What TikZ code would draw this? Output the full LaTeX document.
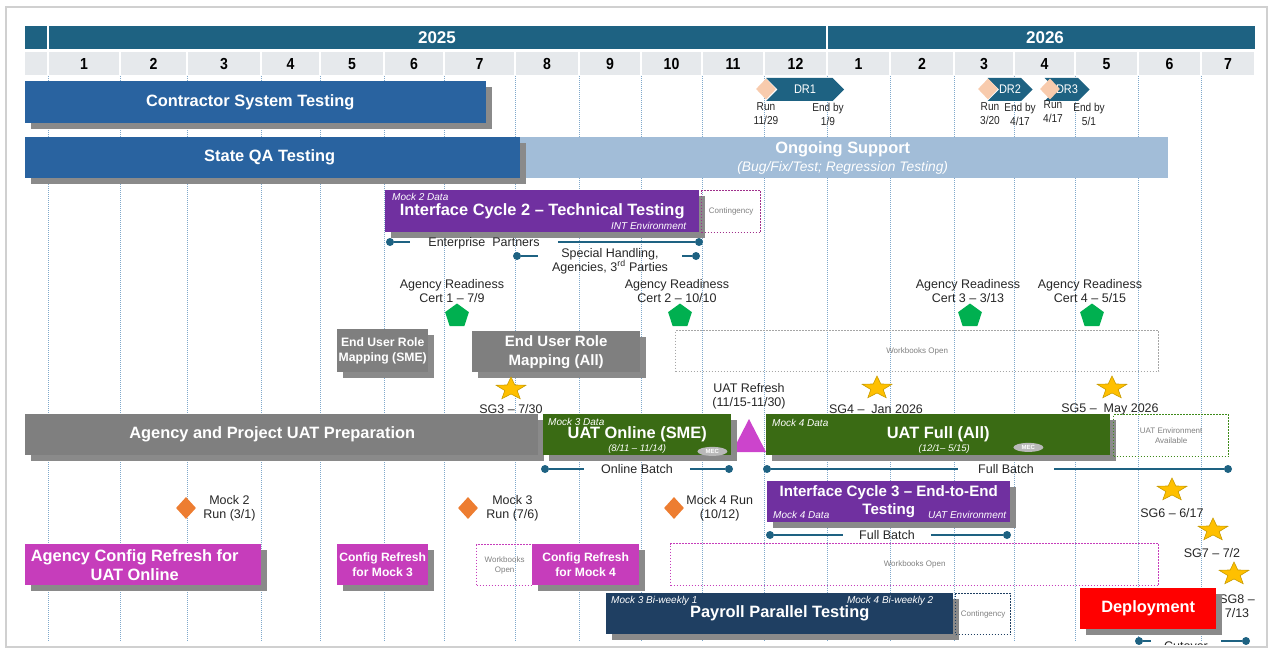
\documentclass[tikz,border=0pt]{standalone}
\usepackage{fontspec}
\setmainfont{Liberation Sans}
\newfontfamily\narrowsans{Liberation Sans}[FakeStretch=0.88]
\usetikzlibrary{positioning,shapes.geometric,shapes.symbols,shadows}

\definecolor{yearblue}{HTML}{1E6282}
\definecolor{monthgray}{HTML}{E6E9EC}
\definecolor{gridblue}{HTML}{7FA8CB}
\definecolor{testblue}{HTML}{2963A0}
\definecolor{supportblue}{HTML}{A2BDD8}
\definecolor{icpurple}{HTML}{7030A0}
\definecolor{contpurple}{HTML}{A0308C}
\definecolor{uatgreen}{HTML}{3A6B14}
\definecolor{envgreen}{HTML}{3E8A1A}
\definecolor{configpink}{HTML}{C63DBB}
\definecolor{refreshpink}{HTML}{CC44CC}
\definecolor{payrollnavy}{HTML}{1F3F62}
\definecolor{deployred}{HTML}{FF0000}
\definecolor{prepgray}{HTML}{7F7F7F}
\definecolor{shadowgray}{HTML}{8A8A8A}
\definecolor{runorange}{HTML}{ED7D31}
\definecolor{drpeach}{HTML}{F8CBAD}
\definecolor{certgreen}{HTML}{00B050}
\definecolor{sggold}{HTML}{FFC000}
\definecolor{sgedge}{HTML}{C89B00}
\definecolor{inktext}{HTML}{262626}
\definecolor{framegray}{HTML}{D0D0D0}

\tikzset{
  wh/.style 2 args={minimum width=#1pt, minimum height=#2pt},
  bar/.style={anchor=north west, inner sep=0pt, text=white, align=center,
    font=\bfseries\fontsize{16.4}{19}\selectfont,
    drop shadow={shadow xshift=6pt, shadow yshift=-6pt, fill=shadowgray, opacity=1}},
  flatbar/.style={anchor=north west, inner sep=0pt, text=white, align=center},
  tag/.style={inner sep=0pt, text=white, font=\itshape\fontsize{10}{11}\selectfont},
  openbox/.style={anchor=north west, inner sep=0pt, align=center, text=gray,
    line width=1.3pt, dash pattern=on 1.3pt off 1.7pt, font=\fontsize{8}{10}\selectfont},
  note/.style={inner sep=0pt, align=center, text=inktext, font=\fontsize{12.5}{14}\selectfont},
  small/.style={inner sep=0pt, align=center, text=inktext, font=\narrowsans\fontsize{11.5}{14}\selectfont},
  batchlabel/.style={inner ysep=0pt, text=inktext, align=center, font=\fontsize{12.5}{14}\selectfont},
  batchline/.style={draw=yearblue, line width=1.6pt},
  batchdot/.style={circle, fill=yearblue, inner sep=0pt, minimum size=8pt},
  sgstar/.style={star, star points=5, star point ratio=2.4, minimum size=24pt, inner sep=0pt,
    xscale=1.3, fill=sggold, draw=sgedge, line width=0.6pt},
  cert/.style={regular polygon, regular polygon sides=5, minimum size=25pt, inner sep=0pt, fill=certgreen},
  mockrun/.style={diamond, minimum width=20pt, minimum height=22pt, inner sep=0pt, fill=runorange},
  drrun/.style={diamond, minimum width=20pt, minimum height=21pt, inner sep=0pt, fill=drpeach},
  drband/.style={signal, signal to=east, signal from=west, minimum height=23pt, inner sep=0pt,
    fill=yearblue, text=white, font=\narrowsans\fontsize{12.5}{14}\selectfont},
  mec/.style={ellipse, inner sep=0pt, minimum width=30pt, minimum height=9pt, fill=gray!55,
    text=white, font=\bfseries\fontsize{6}{7}\selectfont},
  gridline/.style={gridblue, line width=0.6pt, dash pattern=on 1pt off 1pt},
  yearlabel/.style={inner sep=0pt, text=white, font=\bfseries\fontsize{17}{18}\selectfont},
  monthlabel/.style={inner sep=0pt, text=black, font=\narrowsans\bfseries\fontsize{16}{17}\selectfont},
}

\begin{document}
\begin{tikzpicture}[x=1pt,y=-1pt]
\useasboundingbox (0,0) rectangle (1272,658);
\draw[framegray, line width=1.2pt] (6,7) rectangle (1267,647);

\begin{scope}
\clip (7,8) rectangle (1266,644);

% Header
\fill[yearblue] (25,26) rectangle (47,49);
\fill[yearblue] (49,26) rectangle (826,49);
\fill[yearblue] (828,26) rectangle (1255,49);
\node[yearlabel] (y2025) at (437,37.5) {2025};
\node[yearlabel] (y2026) at (1045,37.5) {2026};
\fill[monthgray] (25,52) rectangle (47,75);
\foreach \a/\b/\m in {48/120/1,120/187/2,187/261/3,261/320/4,320/384/5,384/444/6,
    444/515/7,515/579/8,579/641/9,641/702/10,702/764/11,764/827/12,827/890/1,
    890/954/2,954/1014/3,1014/1075/4,1075/1138/5,1138/1201/6,1201/1255/7}{
  \fill[monthgray] (\a+1,52) rectangle (\b-1,75);
  \node[monthlabel] (month\a) at ({(\a+\b)/2},64) {\m};
}

% Month grid
\foreach \x in {48,120,187,261,320,384,444,515,579,641,702,764,827,890,954,1014,1075,1138,1201}
  \draw[gridline] (\x,76) -- (\x,642);

% Testing bars
\node[bar, fill=testblue, wh={461}{42}] (cst) at (25,81) {Contractor System Testing\hspace*{11pt}};
\node[flatbar, fill=supportblue, wh={651}{41}, font=\fontsize{13.8}{18}\selectfont]
  (ongoing) at (517,137) {{\bfseries\fontsize{16.4}{18}\selectfont Ongoing Support}\\
  {\itshape (Bug/Fix/Test; Regression Testing)}};
\node[bar, fill=testblue, wh={495}{41}] (sqa) at (25,137) {State QA Testing\hspace*{6pt}};

% Data refresh runs
\node[drband, minimum width=78pt] (dr1) at (805,89.5) {DR1};
\node[drrun] (dr1run) at (766,89) {};
\node[drband, minimum width=42pt] (dr2) at (1010,89.5) {DR2};
\node[drrun] (dr2run) at (988,89) {};
\node[drband, minimum width=34pt] (dr3) at (1067,89.5) {DR3};
\node[drrun] (dr3run) at (1050,89) {};
\node[small] (dr1-a) at (766,114) {Run\\11/29};
\node[small] (dr1-b) at (828,114) {End by\\1/9};
\node[small] (dr2-a) at (990,114) {Run\\3/20};
\node[small] (dr2-b) at (1020,114) {End by\\4/17};
\node[small] (dr3-a) at (1053,112) {Run\\4/17};
\node[small] (dr3-b) at (1089,114) {End by\\5/1};

% Interface cycle 2
\node[bar, fill=icpurple, wh={314}{42}] (ic2) at (385,190) {Interface Cycle 2 – Technical Testing};
\node[tag, below right=3pt and 7pt of ic2.north west] (ic2-data) {Mock 2 Data};
\node[tag, above left=3pt and 13pt of ic2.south east] (ic2-env) {INT Environment};
\node[openbox, draw=contpurple, wh={59}{42}] (ic2cont) at (701,190) {Contingency};

\node[batchdot] (ep-a) at (390,242) {};
\node[batchdot] (ep-b) at (699,242) {};
\node[batchlabel, inner xsep=18pt] (ep) at (484,243) {Enterprise\ \ Partners};
\draw[batchline] (ep-a) -- (ep-a -| ep.west);
\draw[batchline] (ep.east |- ep-b) -- (ep-b);
\node[batchdot] (sh-a) at (517,256) {};
\node[batchdot] (sh-b) at (696,256) {};
\node[batchlabel, inner xsep=14pt] (sh) at (610,261) {Special Handling,\\Agencies, 3\textsuperscript{rd} Parties};
\draw[batchline] (sh-a) -- (sh-a -| sh.west);
\draw[batchline] (sh.east |- sh-b) -- (sh-b);

% Agency readiness
\node[note] (cert1-l) at (452,291) {Agency Readiness\\Cert 1 – 7/9};
\node[cert] (cert1) at (457,316) {};
\node[note] (cert2-l) at (677,291) {Agency Readiness\\Cert 2 – 10/10};
\node[cert] (cert2) at (680,316) {};
\node[note] (cert3-l) at (968,291) {Agency Readiness\\Cert 3 – 3/13};
\node[cert] (cert3) at (970,316) {};
\node[note] (cert4-l) at (1090,291) {Agency Readiness\\Cert 4 – 5/15};
\node[cert] (cert4) at (1092,316) {};

% Role mapping
\node[bar, fill=prepgray, wh={91}{43}, font=\bfseries\fontsize{12.2}{15}\selectfont]
  (eursme) at (337,329) {End User Role\\Mapping (SME)};
\node[bar, fill=prepgray, wh={168}{41}, font=\bfseries\fontsize{15}{19}\selectfont]
  (eurall) at (472,331) {End User Role\\Mapping (All)};
\node[openbox, draw=gray!70, wh={483}{41}] (wb1) at (675,330) {Workbooks Open};

% Stage gates
\node[sgstar] (sg3) at (511,389) {};
\node[note] (sg3-l) at (511,409) {SG3 – 7/30};
\node[sgstar] (sg4) at (877,388) {};
\node[note] (sg4-l) at (876,409) {SG4 –\ \ Jan 2026};
\node[sgstar] (sg5) at (1112,388) {};
\node[note] (sg5-l) at (1110,409) {SG5 –\ \ May 2026};
\node[note] (refresh) at (749,396) {UAT Refresh\\(11/15-11/30)};
\fill[refreshpink] (732,452) -- (749,419) -- (766,452) -- cycle;

% UAT
\node[bar, fill=prepgray, wh={513}{41}] (prep) at (25,414) {Agency and Project UAT Preparation\hspace*{19pt}};
\node[bar, fill=uatgreen, wh={188}{41}] (uatol) at (543,414) {UAT Online (SME)};
\node[tag, below right=4pt and 5pt of uatol.north west] (uatol-data) {Mock 3 Data};
\node[tag, font=\itshape\fontsize{9.5}{11}\selectfont] (uatol-d) at ([yshift=-14pt]uatol.center) {(8/11 – 11/14)};
\node[mec] (mec1) at ([xshift=-19pt, yshift=4pt]uatol.south east) {MEC};
\node[bar, fill=uatgreen, wh={344}{41}] (uatfull) at (766,414) {UAT Full (All)};
\node[tag, below right=5pt and 6pt of uatfull.north west] (uatfull-data) {Mock 4 Data};
\node[tag, font=\itshape\fontsize{9.5}{11}\selectfont] (uatfull-d) at ([xshift=6pt, yshift=-14pt]uatfull.center) {(12/1– 5/15)};
\node[mec] (mec2) at ([xshift=-82pt, yshift=8pt]uatfull.south east) {MEC};
\node[openbox, draw=envgreen, wh={115}{42}] (uatenv) at (1113,414) {UAT Environment\\Available};

\node[batchdot] (ob-a) at (545,469) {};
\node[batchdot] (ob-b) at (729,469) {};
\node[batchlabel, inner xsep=17pt] (ob) at (637,469) {Online Batch};
\draw[batchline] (ob-a) -- (ob-a -| ob.west);
\draw[batchline] (ob.east |- ob-b) -- (ob-b);
\node[batchdot] (fb-a) at (767,469) {};
\node[batchdot] (fb-b) at (1228,469) {};
\node[batchlabel, inner xsep=20pt] (fb) at (1006,469) {Full Batch};
\draw[batchline] (fb-a) -- (fb-a -| fb.west);
\draw[batchline] (fb.east |- fb-b) -- (fb-b);

% Mock runs
\node[mockrun] (mock2) at (186,508) {};
\node[note, right=7pt of mock2] (mock2-l) {Mock 2\\Run (3/1)};
\node[mockrun] (mock3) at (468,508) {};
\node[note, right=8pt of mock3] (mock3-l) {Mock 3\\Run (7/6)};
\node[mockrun] (mock4) at (674,508) {};
\node[note, right=2pt of mock4] (mock4-l) {Mock 4 Run\\(10/12)};

% Interface cycle 3
\node[bar, fill=icpurple, wh={243}{41}, font=\bfseries\fontsize{15.1}{18}\selectfont]
  (ic3) at (767,481) {Interface Cycle 3 – End-to-End\\Testing};
\node[tag, above right=4pt and 6pt of ic3.south west] (ic3-data) {Mock 4 Data};
\node[tag, above left=4pt and 4pt of ic3.south east] (ic3-env) {UAT Environment};
\node[batchdot] (fb3-a) at (770,535) {};
\node[batchdot] (fb3-b) at (1007,535) {};
\node[batchlabel, inner xsep=16pt] (fb3) at (887,535) {Full Batch};
\draw[batchline] (fb3-a) -- (fb3-a -| fb3.west);
\draw[batchline] (fb3.east |- fb3-b) -- (fb3-b);

\node[sgstar] (sg6) at (1172,490) {};
\node[note] (sg6-l) at (1172,513) {SG6 – 6/17};
\node[sgstar] (sg7) at (1213,530) {};
\node[note] (sg7-l) at (1212,553) {SG7 – 7/2};
\node[sgstar] (sg8) at (1234,574) {};
\node[note] (sg8-l) at (1237,606) {SG8 –\\7/13};

% Config refresh
\node[bar, fill=configpink, wh={236}{41}] (acr) at (25,544) {Agency Config Refresh for\hspace*{17pt}\\UAT Online\hspace*{17pt}};
\node[bar, fill=configpink, wh={91}{41}, font=\bfseries\fontsize{12.1}{15}\selectfont]
  (cr3) at (337,544) {Config Refresh\\for Mock 3};
\node[openbox, draw=configpink, wh={56}{41}] (wb2) at (476,544) {Workbooks\\Open};
\node[bar, fill=configpink, wh={107}{41}, font=\bfseries\fontsize{12.1}{15}\selectfont]
  (cr4) at (532,544) {Config Refresh\\for Mock 4};
\node[openbox, draw=configpink, wh={488}{42}] (wb3) at (670,543) {Workbooks Open};

% Payroll and deployment
\node[bar, fill=payrollnavy, wh={347}{41}] (payroll) at (606,593) {Payroll Parallel Testing};
\node[tag, below right=3pt and 5pt of payroll.north west] (pay-1) {Mock 3 Bi-weekly 1};
\node[tag, below left=3pt and 20pt of payroll.north east] (pay-2) {Mock 4 Bi-weekly 2};
\node[openbox, draw=payrollnavy, wh={55}{41}] (paycont) at (955,593) {Contingency};
\node[bar, fill=deployred, wh={136}{41}] (deploy) at (1080,588) {Deployment};

\node[batchdot] (co-a) at (1139,641) {};
\node[batchdot] (co-b) at (1246,641) {};
\node[batchlabel, inner xsep=13pt] (co) at (1186,646) {Cutover};
\draw[batchline] (co-a) -- (co-a -| co.west);
\draw[batchline] (co.east |- co-b) -- (co-b);
\end{scope}
\end{tikzpicture}
\end{document}
